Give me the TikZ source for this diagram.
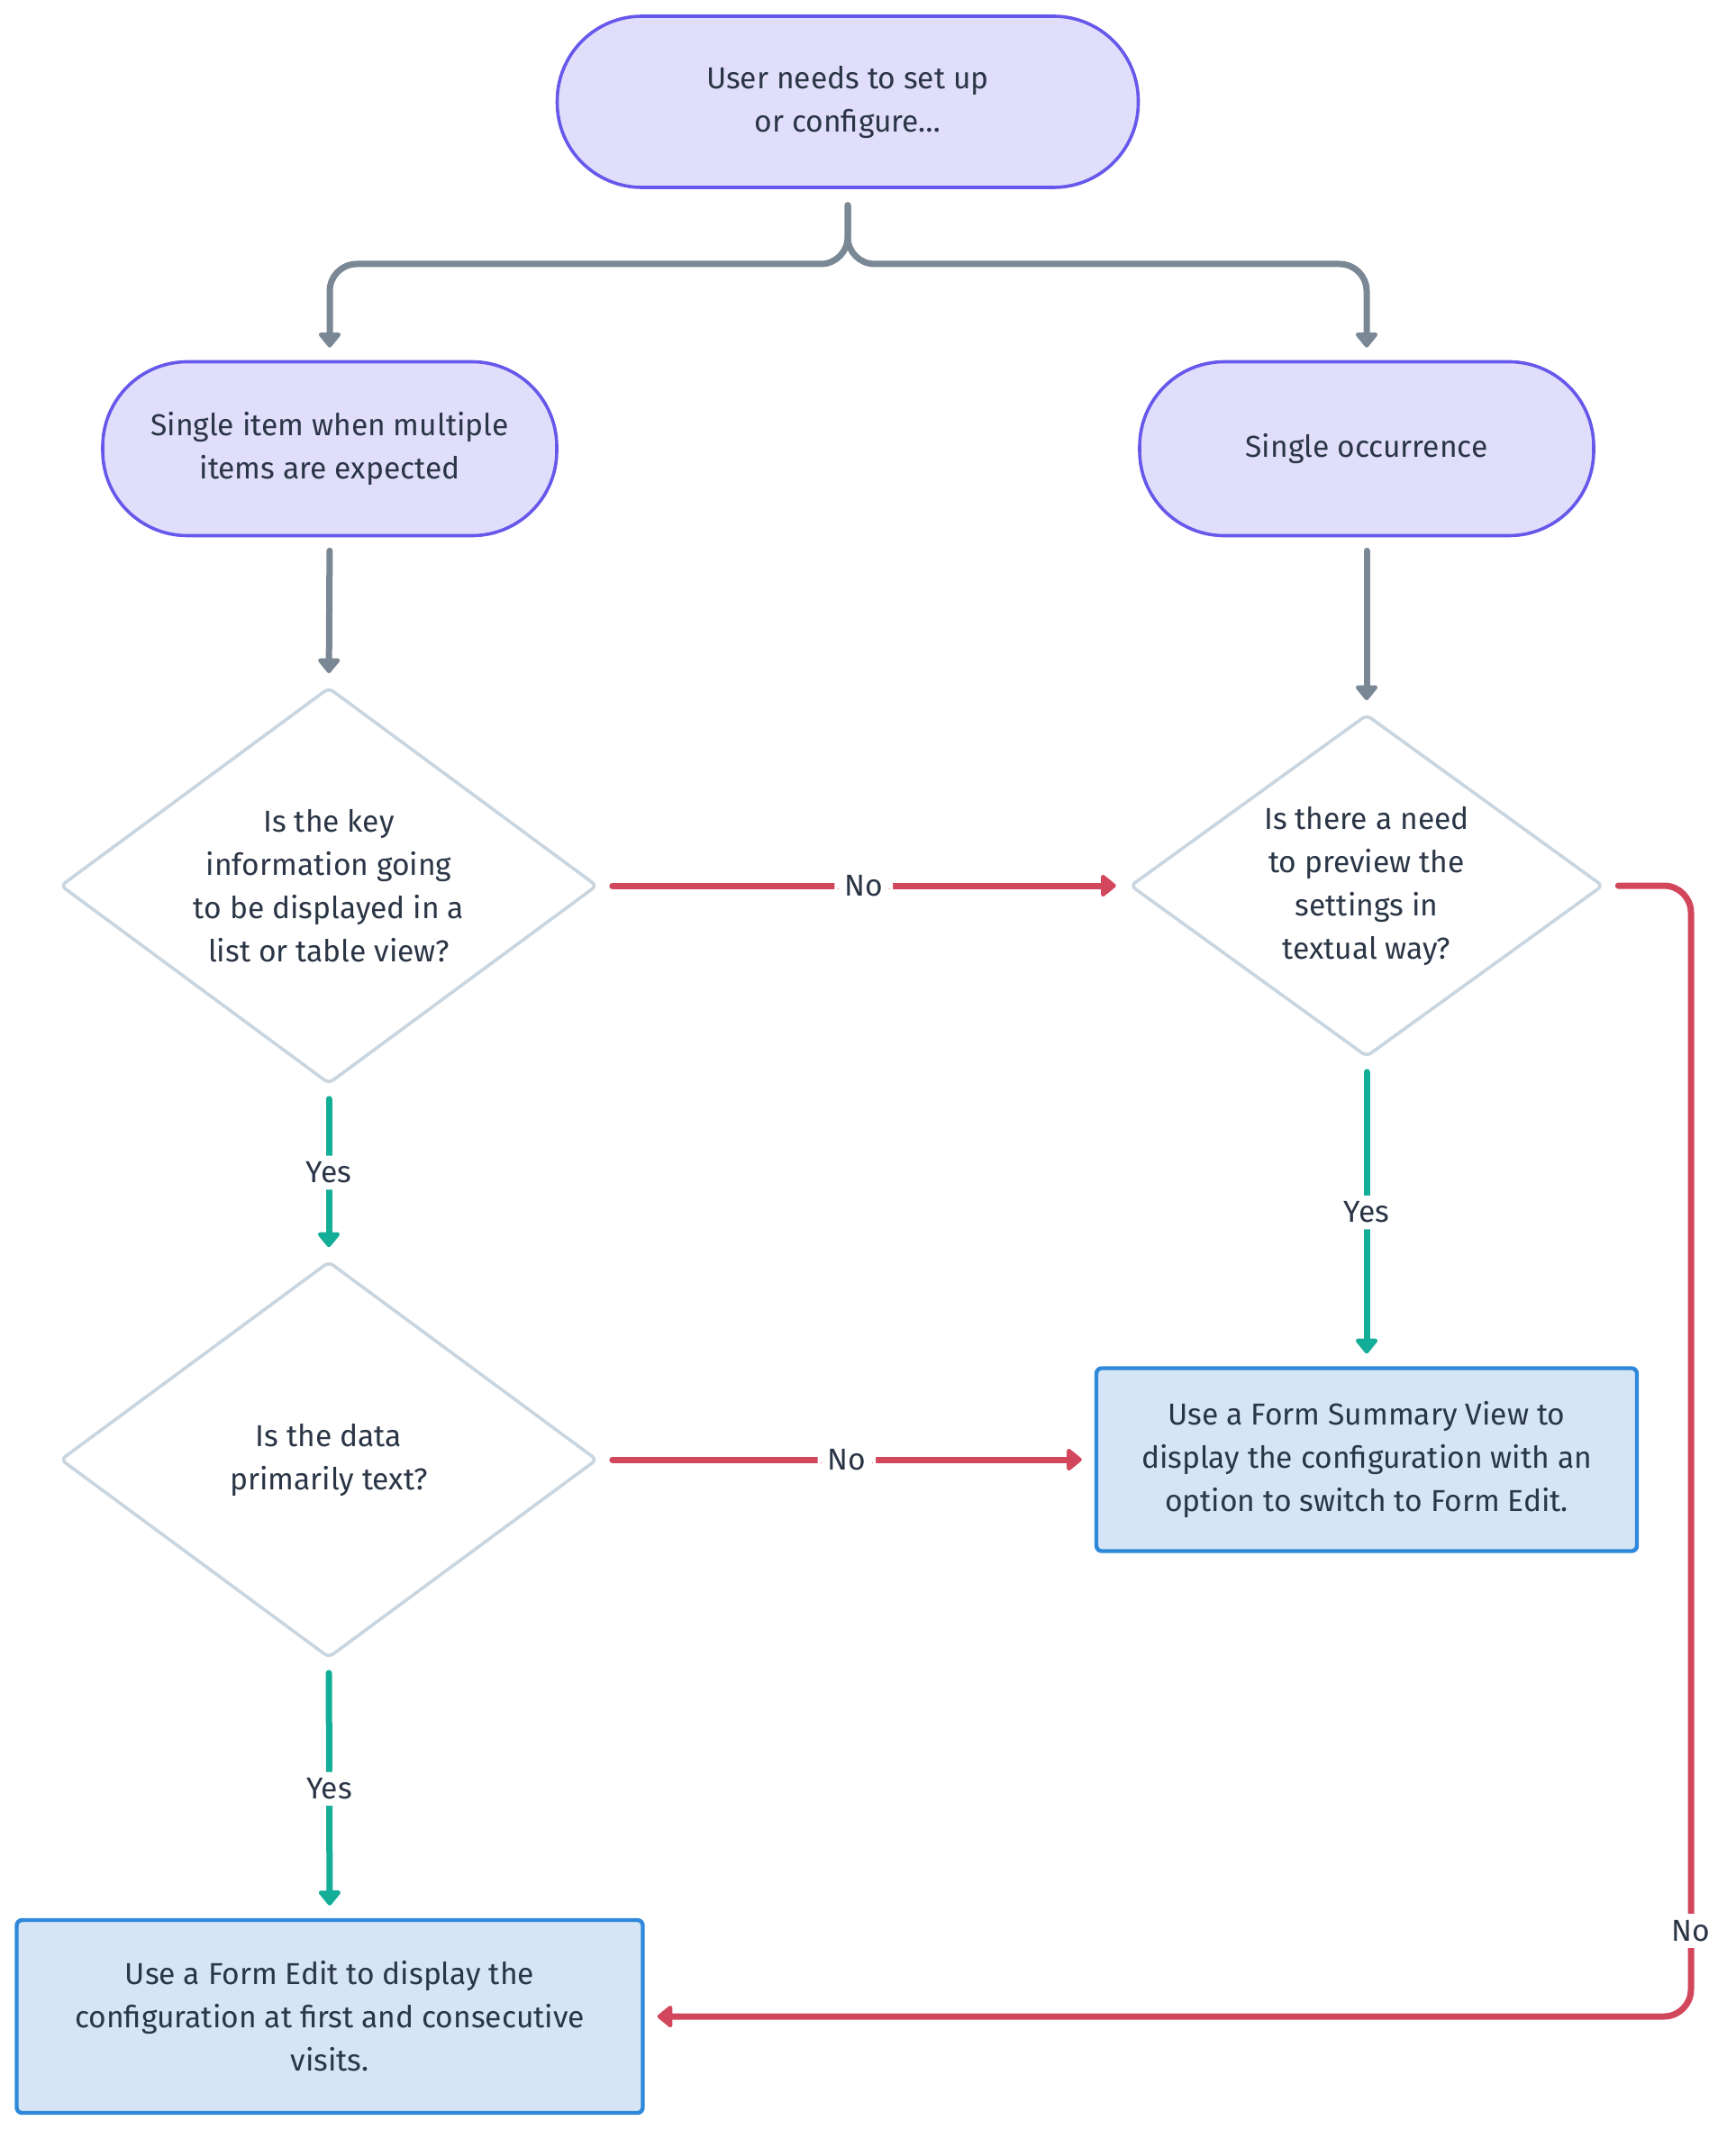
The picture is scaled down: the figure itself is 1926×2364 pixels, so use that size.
\documentclass[tikz,border=0pt]{standalone}
\usepackage{fontspec}
\setmainfont{Fira Sans}
\usetikzlibrary{shapes.geometric,arrows.meta}
\definecolor{txt}{HTML}{2A3546}
\definecolor{stfill}{HTML}{E0DEFB}
\definecolor{stdraw}{HTML}{6658EA}
\definecolor{gconn}{HTML}{7A8795}
\definecolor{dmdraw}{HTML}{C9D5DF}
\definecolor{rconn}{HTML}{D3475D}
\definecolor{tconn}{HTML}{14AE98}
\definecolor{bxfill}{HTML}{D5E5F5}
\definecolor{bxdraw}{HTML}{2F88DA}
\tikzset{
  every node/.style={text=txt, font=\fontsize{16.8}{24}\selectfont, align=center},
  stadium/.style={rectangle, rounded corners=47pt, fill=stfill, draw=stdraw, line width=1.8pt, inner sep=0pt},
  decision/.style={diamond, aspect=1.36, fill=white, draw=dmdraw, line width=1.8pt, inner sep=0pt, rounded corners=3pt},
  resultbox/.style={rectangle, rounded corners=3pt, fill=bxfill, draw=bxdraw, line width=2.2pt, inner sep=0pt},
  conn/.style={line width=3.5pt, line cap=round, rounded corners=15pt, shorten <=7.5pt, shorten >=7pt,
    -{Triangle[length=9pt,width=14pt,round]}},
  gray conn/.style={conn, draw=gconn},
  red conn/.style={conn, draw=rconn},
  teal conn/.style={conn, draw=tconn},
  lbl/.style={fill=white, draw=white, line width=1pt, inner xsep=5pt, inner ysep=3pt}
}
\begin{document}
\begin{tikzpicture}[x=0.5pt,y=-0.5pt]
\useasboundingbox (0,0) rectangle (1926,2364);

\node[stadium, minimum width=322.5pt, minimum height=95pt] (top) at (941,113) {User needs to set up\\or configure…};
\node[stadium, minimum width=252pt, minimum height=96.5pt] (left) at (366,498) {Single item when multiple\\items are expected};
\node[stadium, minimum width=252pt, minimum height=96.5pt] (right) at (1517,498) {Single occurrence};

\node[decision, minimum width=298pt, minimum height=220pt] (d1) at (365,983) {Is the key\\information going\\to be displayed in a\\list or table view?};
\node[decision, minimum width=262.5pt, minimum height=190pt, aspect=1.38] (d2) at (1517,983) {Is there a need\\to preview the\\settings in\\textual way?};
\node[decision, minimum width=298pt, minimum height=220pt] (d3) at (365,1620) {Is the data\\primarily text?};

\node[resultbox, minimum width=300pt, minimum height=101.5pt] (sum) at (1517,1620) {Use a Form Summary View to\\display the configuration with an\\option to switch to Form Edit.};
\node[resultbox, minimum width=347.5pt, minimum height=107pt] (fe) at (366,2238) {Use a Form Edit to display the\\configuration at first and consecutive\\visits.};

\coordinate (split) at (941,293);
\coordinate (rturn) at (1877,2238);

\draw[gray conn, shorten <=9pt] (top.south) -- (split) -| (left.north);
\draw[gray conn, shorten <=9pt] (top.south) -- (split) -| (right.north);
\draw[gray conn] (left.south) -- (d1.north);
\draw[gray conn] (right.south) -- (d2.north);

\draw[red conn] (d1.east) -- node[lbl] {No} (d2.west);
\draw[red conn] (d3.east) -- node[lbl] {No} (sum.west);
\draw[red conn] (d2.east) -| (rturn) -- (fe.east);
\node[lbl] (nolbl) at (1877,2143) {No};

\draw[teal conn] (d1.south) -- node[lbl] {Yes} (d3.north);
\draw[teal conn] (d2.south) -- node[lbl] {Yes} (sum.north);
\draw[teal conn] (d3.south) -- node[lbl] {Yes} (fe.north);
\end{tikzpicture}
\end{document}
